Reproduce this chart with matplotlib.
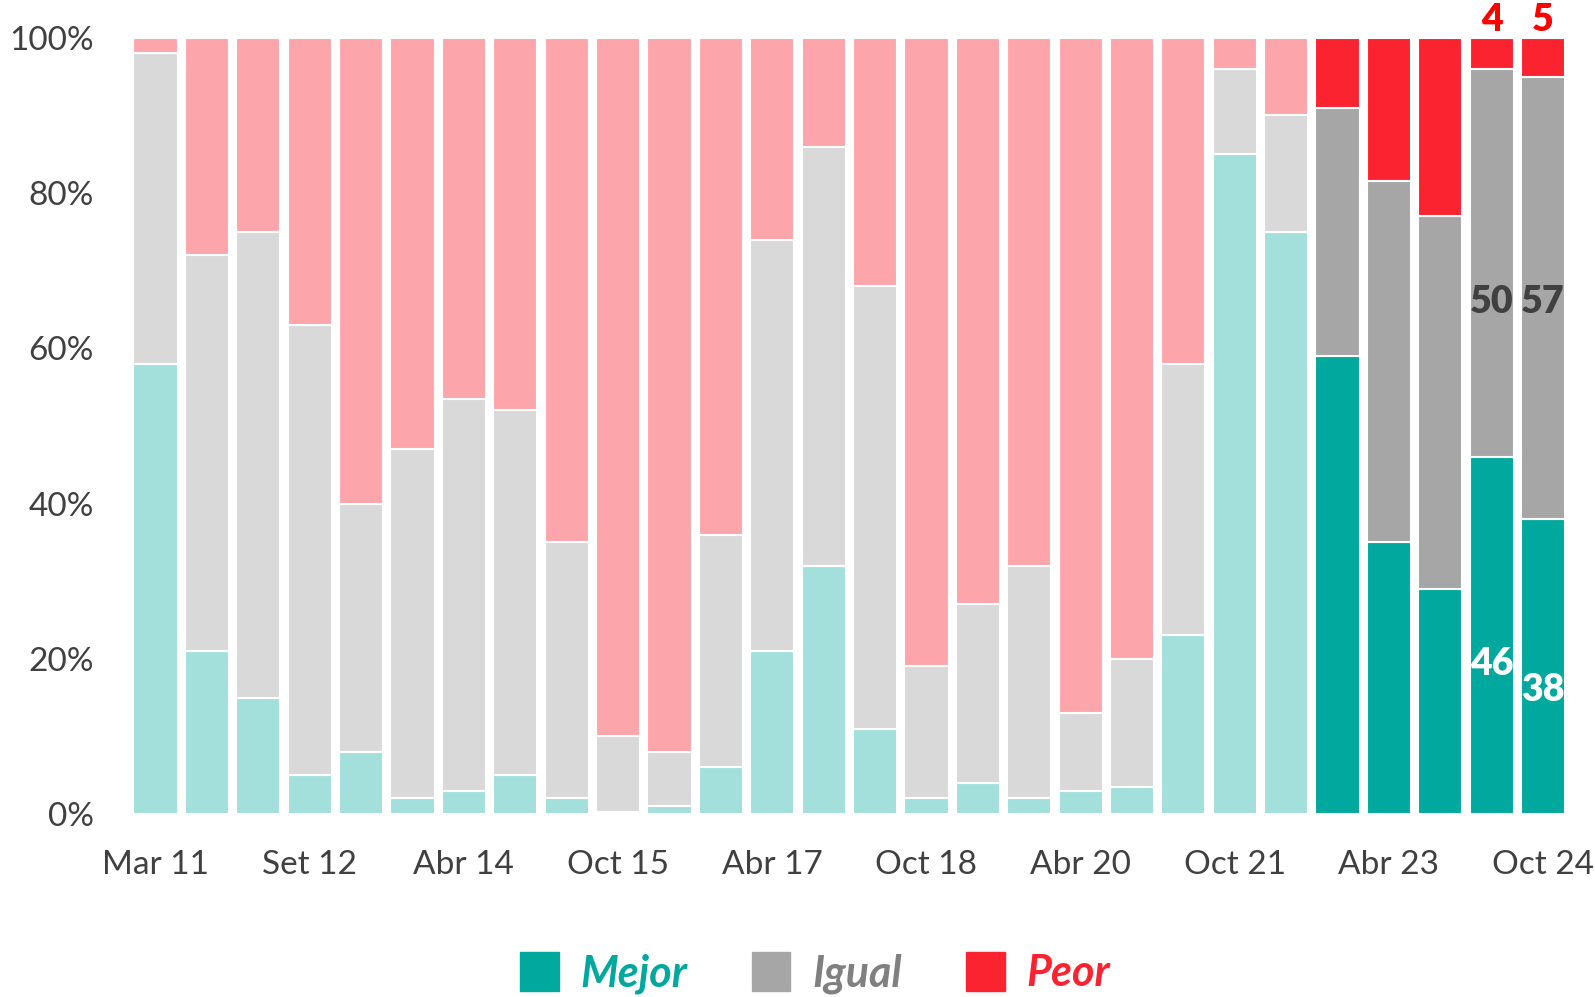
import numpy as np
import matplotlib
matplotlib.use("Agg")
import matplotlib.pyplot as plt
from matplotlib.patches import Patch

plt.rcParams['font.family'] = ['Lato', 'DejaVu Sans']

# data (percent)
mejor = [58, 21, 15, 5, 8, 2, 3, 5, 2, 0.3, 1, 6, 21, 32, 11, 2, 4, 2, 3, 3.5,
         23, 85, 75, 59, 35, 29, 46, 38]
igual = [40, 51, 60, 58, 32, 45, 50.5, 47, 33, 9.7, 7, 30, 53, 54, 57, 17, 23,
         30, 10, 16.5, 35, 11, 15, 32, 46.5, 48, 50, 57]
peor = [2, 28, 25, 37, 60, 53, 46.5, 48, 65, 90, 92, 64, 26, 14, 32, 81, 73,
        68, 87, 80, 42, 4, 10, 9, 18.5, 23, 4, 5]
tick_labels = ['Mar 11', 'Set 12', 'Abr 14', 'Oct 15', 'Abr 17', 'Oct 18',
               'Abr 20', 'Oct 21', 'Abr 23', 'Oct 24']
n_light = 23  # first bars drawn in pale colours

x = np.arange(len(mejor))
mejor = np.array(mejor)
igual = np.array(igual)
peor = np.array(peor)

c_mejor = ['#A3DFDB'] * n_light + ['#00A89D'] * (len(x) - n_light)
c_igual = ['#D9D9D9'] * n_light + ['#A6A6A6'] * (len(x) - n_light)
c_peor = ['#FCA6AC'] * n_light + ['#FC2331'] * (len(x) - n_light)

fig = plt.figure(figsize=(15.95, 9.97), dpi=100)
ax = fig.add_axes([0.0814, 0.1836, 0.9022, 0.7784])

w = 0.86
ax.bar(x, mejor, w, color=c_mejor, edgecolor='white', linewidth=1.5)
ax.bar(x, igual, w, bottom=mejor, color=c_igual, edgecolor='white', linewidth=1.5)
ax.bar(x, peor, w, bottom=mejor + igual, color=c_peor, edgecolor='white', linewidth=1.5)

# value labels on last two bars
for i in [26, 27]:
    ax.text(i, mejor[i] * 0.42, f'{mejor[i]:.0f}', ha='center', va='center',
            color='white', fontsize=27, fontweight='heavy')
    ax.text(i, 66, f'{igual[i]:.0f}', ha='center', va='center',
            color='#404040', fontsize=27, fontweight='heavy')
    ax.text(i, 100.1, f'{peor[i]:.0f}', ha='center', va='bottom',
            color='#FF0000', fontsize=27, fontweight='heavy')

ax.set_xlim(-0.5, 27.5)
ax.set_ylim(0, 100)
ax.set_yticks(np.arange(0, 101, 20))
ax.set_yticklabels([f'{v}%' for v in range(0, 101, 20)])
ax.set_xticks(x[::3])
ax.set_xticklabels(tick_labels)
ax.tick_params(axis='both', length=0, labelsize=24, colors='#404040')
ax.tick_params(axis='x', pad=26)
ax.tick_params(axis='y', pad=26)
for s in ax.spines.values():
    s.set_visible(False)

handles = [Patch(color='#00A89D'), Patch(color='#A6A6A6'), Patch(color='#FC2331')]
leg = fig.legend(handles, ['Mejor', 'Igual', 'Peor'], loc='center',
                 bbox_to_anchor=(0.511, 0.024), ncol=3, frameon=False,
                 handlelength=0.9, handleheight=1.0, columnspacing=1.5,
                 handletextpad=0.5,
                 prop={'size': 31, 'weight': 'bold', 'style': 'italic'})
for t, c in zip(leg.get_texts(), ['#00A89D', '#808080', '#FC2331']):
    t.set_color(c)

fig.savefig('out.png', dpi=100)
